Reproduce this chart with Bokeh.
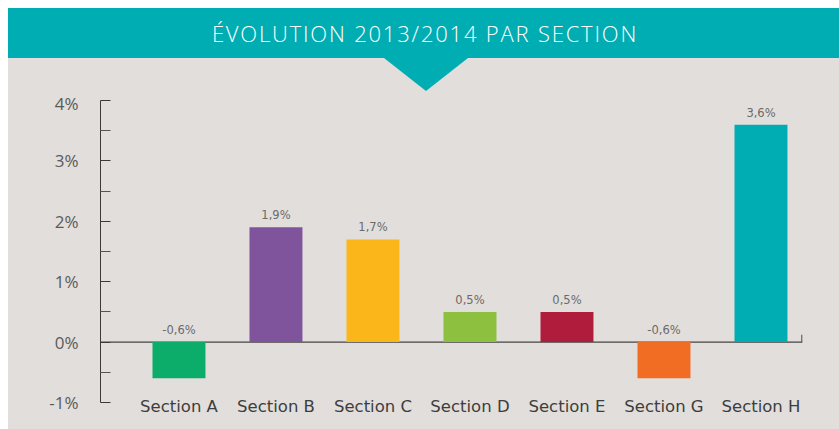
from bokeh.plotting import figure
from bokeh.models import Range1d, FixedTicker, PrintfTickFormatter, Span, ColumnDataSource, Div
from bokeh.layouts import column
from bokeh.embed import file_html
from bokeh.resources import INLINE
from bokeh.core.properties import value

# ---- data ----
categories = ["Section A", "Section B", "Section C", "Section D", "Section E", "Section G", "Section H"]
values = [-0.6, 1.9, 1.7, 0.5, 0.5, -0.6, 3.6]
colors = ["#0cad6a", "#80549d", "#fbb61a", "#8dc03f", "#b01c3c", "#f26d24", "#00adb3"]
y_ticks = [-1, 0, 1, 2, 3, 4]
title_text = "ÉVOLUTION 2013/2014 PAR SECTION"

BG = "#e2dedb"
TEAL = "#00adb3"
FONT = "Open Sans"
FONT_WIDE = "DejaVu Sans"

xs = list(range(len(categories)))
labels = [f"{v:.1f}".replace(".", ",") + "%" for v in values]
label_y = [max(v, 0) for v in values]
src = ColumnDataSource(dict(x=xs, top=values, color=colors, label=labels, ly=label_y))

x_start = -0.809
x_end = 6.428

p = figure(width=831, height=338,
           x_range=Range1d(x_start, x_end), y_range=Range1d(y_ticks[0], y_ticks[-1]),
           output_backend="svg", toolbar_location=None, margin=0,
           min_border_left=92, min_border_right=37, min_border_top=9, min_border_bottom=27)

p.background_fill_color = BG
p.border_fill_color = BG
p.outline_line_color = None
p.xgrid.visible = False
p.ygrid.visible = False

p.add_layout(Span(location=0, dimension="width", line_color="#444444", line_width=1.2, level="underlay"))
p.segment(x0=[x_end - 0.006], y0=[0], x1=[x_end - 0.006], y1=[0.12], line_color="#444444", line_width=1.2)

p.vbar(x="x", top="top", bottom=0, width=0.546, fill_color="color", line_color=None, source=src)
p.text(x="x", y="ly", text="label", text_align="center", text_baseline="bottom", y_offset=-5,
       text_font=value(FONT_WIDE), text_font_size="11.5px", text_color="#6a6a6a", source=src)

# x axis (category labels)
xa = p.xaxis[0]
xa.ticker = FixedTicker(ticks=xs)
xa.major_label_overrides = {i: c for i, c in enumerate(categories)}
xa.axis_line_color = None
xa.major_tick_line_color = None
xa.minor_tick_line_color = None
xa.major_tick_out = 0
xa.major_label_standoff = -6
xa.major_label_text_font = FONT_WIDE
xa.major_label_text_font_size = "16.5px"
xa.major_label_text_color = "#3d3d3d"

# y axis
ya = p.yaxis[0]
minor = [(a + b) / 2 for a, b in zip(y_ticks[:-1], y_ticks[1:])]
ya.ticker = FixedTicker(ticks=y_ticks, minor_ticks=minor)
ya.formatter = PrintfTickFormatter(format="%d%%")
ya.axis_line_color = "#3a3a3a"
ya.major_tick_line_color = "#3a3a3a"
ya.minor_tick_line_color = "#555555"
ya.major_tick_in = 10
ya.major_tick_out = 0
ya.minor_tick_in = 10
ya.minor_tick_out = 0
ya.major_label_standoff = 22
ya.major_label_text_font = FONT
ya.major_label_text_font_size = "17px"
ya.major_label_text_color = "#5a5a5a"

banner_html = (
    f'<div style="position:relative;width:831px;height:83px;background:{BG};margin:0;padding:0;">'
    f'<div style="box-sizing:border-box;width:831px;height:50px;background:{TEAL};color:#ffffff;'
    f'font-family:\'{FONT}\',sans-serif;font-size:22px;font-weight:300;letter-spacing:1.8px;'
    f'line-height:51px;text-align:center;padding-left:3px;">'
    f'{title_text}</div>'
    f'<div style="position:absolute;left:376px;top:50px;width:0;height:0;'
    f'border-left:42px solid transparent;border-right:42px solid transparent;border-top:33px solid {TEAL};"></div>'
    f'</div>'
)
banner = Div(text=banner_html, width=831, height=83, margin=0)

layout = column(banner, p, spacing=0, margin=(8, 0, 0, 8), styles={"background-color": BG})

open("out.html", "w").write(file_html(layout, INLINE))
